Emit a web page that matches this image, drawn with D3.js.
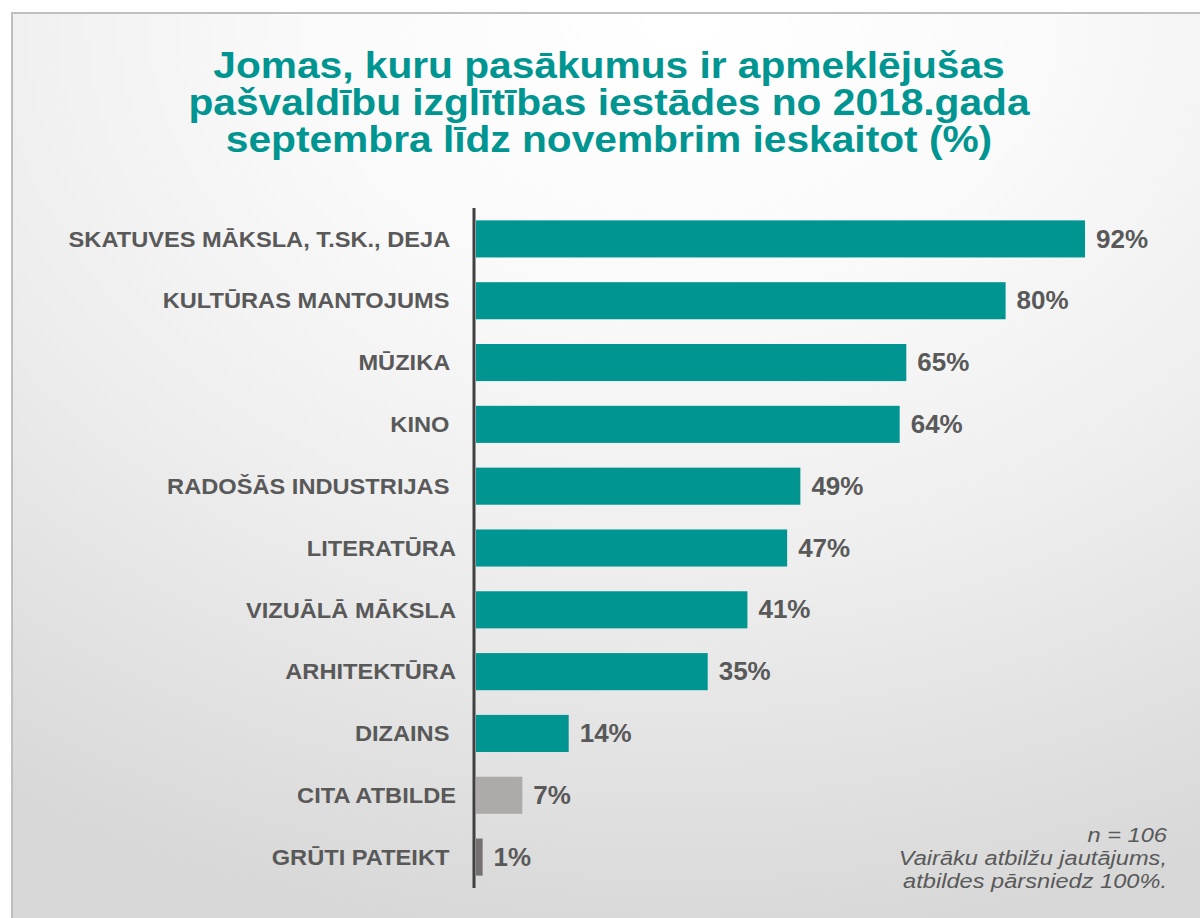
<!DOCTYPE html>
<html>
<head>
<meta charset="utf-8">
<script src="https://cdn.jsdelivr.net/npm/d3@7"></script>
<style>
  body { margin: 0; background: #fff; }
  svg { display: block; font-family: "Liberation Sans", Arial, sans-serif; }
</style>
</head>
<body>
<div id="chart"></div>
<script>
// Data
var categories = ["SKATUVES MĀKSLA, T.SK., DEJA ", "KULTŪRAS MANTOJUMS ", "MŪZIKA ", "KINO ",
    "RADOŠĀS INDUSTRIJAS ", "LITERATŪRA", "VIZUĀLĀ MĀKSLA", "ARHITEKTŪRA", "DIZAINS ",
    "CITA ATBILDE", "GRŪTI PATEIKT "];
var values = [92, 80, 65, 64, 49, 47, 41, 35, 14, 7, 1];
var barColors = ["#009591", "#009591", "#009591", "#009591", "#009591", "#009591",
    "#009591", "#009591", "#009591", "#aeaaaa", "#767171"];
var titleLines = ["Jomas, kuru pasākumus ir apmeklējušas",
    "pašvaldību izglītības iestādes no 2018.gada",
    "septembra līdz novembrim ieskaitot (%)"];
var noteLines = ["n = 106", "Vairāku atbilžu jautājums,", "atbildes pārsniedz 100%."];

var width = 1200, height = 918;
var stretch = 1.075; // the reference text is a bit wider than plain Arial

var svg = d3.select("#chart").append("svg")
    .attr("width", width)
    .attr("height", height);

// background panel with soft gradient
var defs = svg.append("defs");
var grad = defs.append("radialGradient")
    .attr("id", "bg")
    .attr("cx", 0.55).attr("cy", 0).attr("r", 1);
grad.append("stop").attr("offset", "0").attr("stop-color", "#ffffff");
grad.append("stop").attr("offset", "0.3").attr("stop-color", "#fafafa");
grad.append("stop").attr("offset", "0.6").attr("stop-color", "#eeeeee");
grad.append("stop").attr("offset", "1").attr("stop-color", "#d8d8d8");

svg.append("rect")
    .attr("x", 12).attr("y", 13)
    .attr("width", width + 10).attr("height", height + 10)
    .attr("fill", "url(#bg)")
    .attr("stroke", "#bfbfbf")
    .attr("stroke-width", 2);

// title
svg.append("g").selectAll("text")
    .data(titleLines)
    .enter().append("text")
    .attr("transform", function(d, i) { return "translate(609," + (78 + i * 37) + ") scale(1.1,1)"; })
    .attr("text-anchor", "middle")
    .style("font-size", "37px")
    .style("font-weight", "bold")
    .style("fill", "#009591")
    .text(function(d) { return d; });

// scales
var x = d3.scaleLinear().domain([0, 100]).range([476, 1138]);
var y = d3.scaleBand()
    .domain(categories)
    .range([208, 888])
    .paddingInner(0.4)
    .paddingOuter(0.2);

// bars
svg.append("g").selectAll("rect")
    .data(values)
    .enter().append("rect")
    .attr("x", x(0))
    .attr("y", function(d, i) { return y(categories[i]); })
    .attr("width", function(d) { return x(d) - x(0); })
    .attr("height", y.bandwidth())
    .attr("fill", function(d, i) { return barColors[i]; });

// category labels
svg.append("g").selectAll("text")
    .data(categories)
    .enter().append("text")
    .attr("transform", function(d) { return "translate(456," + (y(d) + y.bandwidth() / 2) + ") scale(" + stretch + ",1)"; })
    .attr("dy", "0.35em")
    .attr("text-anchor", "end")
    .style("white-space", "pre")
    .style("font-size", "22px")
    .style("font-weight", "bold")
    .style("fill", "#595959")
    .text(function(d) { return d; });

// value labels
svg.append("g").selectAll("text")
    .data(values)
    .enter().append("text")
    .attr("transform", function(d, i) { return "translate(" + (x(d) + 11) + "," + (y(categories[i]) + y.bandwidth() / 2) + ")"; })
    .attr("dy", "0.33em")
    .style("font-size", "26px")
    .style("font-weight", "bold")
    .style("fill", "#595959")
    .text(function(d) { return d + "%"; });

// vertical axis line
svg.append("line")
    .attr("x1", 474).attr("x2", 474)
    .attr("y1", 208).attr("y2", 888)
    .attr("stroke", "#404040")
    .attr("stroke-width", 3);

// note
svg.append("g").selectAll("text")
    .data(noteLines)
    .enter().append("text")
    .attr("transform", function(d, i) { return "translate(1167," + (842 + i * 23) + ") scale(1.125,1)"; })
    .attr("text-anchor", "end")
    .style("font-size", "21px")
    .style("font-style", "italic")
    .style("fill", "#595959")
    .text(function(d) { return d; });
</script>
</body>
</html>
